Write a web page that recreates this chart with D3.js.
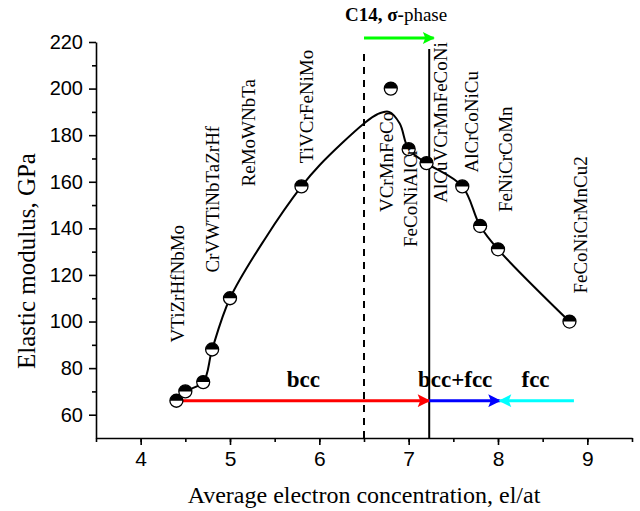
<!DOCTYPE html>
<html>
<head>
<meta charset="utf-8">
<script src="https://cdn.jsdelivr.net/npm/d3@7"></script>
<style>
  body { margin: 0; background: #fff; }
  svg { display: block; }
</style>
</head>
<body>
<svg id="chart" width="640" height="511"></svg>
<script>
// Measured points: electron concentration vs elastic modulus
const vec = [4.4, 4.5, 4.7, 4.8, 5.0, 5.8, 6.8, 7.0, 7.2, 7.6, 7.8, 8.0, 8.8];
const modulus = [66, 70, 74, 88, 110, 158, 200, 174, 168, 158, 141, 131, 100];

// Hand-drawn trend curve
const fitX = [4.4, 4.5, 4.7, 4.8, 5.0, 5.4, 5.8, 6.0, 6.5, 6.65, 6.78, 6.9, 7.0, 7.2, 7.6, 7.8, 8.0, 8.8];
const fitY = [66, 70, 74, 88, 110, 136, 158, 167, 185, 189, 190, 185, 174, 168, 158, 141, 131, 100];

// Alloy names and where their labels sit (bottom of rotated text, data units)
const alloys = ["VTiZrHfNbMo", "CrVWTiNbTaZrHf", "ReMoWNbTa", "TiVCrFeNiMo", "VCrMnFeCo",
  "FeCoNiAlCr", "AlCuVCrMnFeCoNi", "AlCrCoNiCu", "FeNiCrCoMn", "FeCoNiCrMnCu2"];
const alloyX = [4.41, 4.8, 5.2, 5.85, 6.75, 7.02, 7.35, 7.7, 8.08, 8.92];
const alloyY = [91, 121, 158, 168, 147, 132, 151, 164, 147, 112];

// Phase region arrows
const phases = ["bcc", "bcc+fcc", "fcc"];
const phaseFrom = [4.4, 7.23, 8.85];
const phaseTo = [7.23, 8.02, 8.02];
const phaseLabelX = [5.82, 7.52, 8.42];
const arrowLevel = 66;
const phaseLabelLevel = 72;

const dashedX = 6.5;   // C14 onset
const solidX = 7.23;   // bcc / bcc+fcc border

const xTicks = [4, 5, 6, 7, 8, 9];
const yTicks = [60, 80, 100, 120, 140, 160, 180, 200, 220];

// ---- layout
const svg = d3.select("#chart");
const margin = {left: 96, right: 8, top: 42, bottom: 73};
const W = 640, H = 511;

const x = d3.scaleLinear().domain([3.5, 9.5]).range([margin.left, W - margin.right]);
const y = d3.scaleLinear().domain([50, 220]).range([H - margin.bottom, margin.top]);

const serif = "'Liberation Serif', 'Times New Roman', serif";
const sans = "'Liberation Sans', Arial, sans-serif";
const phaseColors = ["#ff0000", "#0000ff", "#00ffff"];

// arrow markers
const defs = svg.append("defs");
function addMarker(id, color) {
  defs.append("marker")
    .attr("id", id)
    .attr("viewBox", "0 0 10 10")
    .attr("refX", 9).attr("refY", 5)
    .attr("markerWidth", 4.5).attr("markerHeight", 4)
    .attr("markerUnits", "strokeWidth")
    .attr("orient", "auto")
    .append("path")
    .attr("d", "M0,0 L10,5 L0,10 L2,5 Z")
    .attr("fill", color);
}
phaseColors.forEach((c, i) => addMarker("arr" + i, c));
addMarker("arrGreen", "#00ff00");

// ---- axes
const xAxis = svg.append("g").attr("transform", `translate(0,${y.range()[0]})`);
xAxis.append("g")
  .call(d3.axisBottom(x).tickValues(d3.range(3.5, 9.51, 0.5)).tickSize(4).tickFormat(""))
  .call(g => g.select(".domain").remove());
xAxis.append("g")
  .call(d3.axisBottom(x).tickValues(xTicks).tickFormat(d3.format("d")).tickSize(7).tickPadding(6).tickSizeOuter(0))
  .call(g => g.selectAll("text").attr("font-family", sans).attr("font-size", 21).attr("fill", "#000"));

const yAxis = svg.append("g").attr("transform", `translate(${x.range()[0]},0)`);
yAxis.append("g")
  .call(d3.axisLeft(y).tickValues(d3.range(70, 220, 20)).tickSize(4).tickFormat(""))
  .call(g => g.select(".domain").remove());
yAxis.append("g")
  .call(d3.axisLeft(y).tickValues(yTicks).tickSize(7).tickPadding(6).tickSizeOuter(0))
  .call(g => g.selectAll("text").attr("font-family", sans).attr("font-size", 20).attr("fill", "#000"));

svg.selectAll(".domain, .tick line").attr("stroke", "#000").attr("stroke-width", 1.6);

svg.append("text")
  .attr("x", (x.range()[0] + x.range()[1]) / 2)
  .attr("y", 503)
  .attr("text-anchor", "middle")
  .attr("font-family", serif).attr("font-size", 24)
  .text("Average electron concentration, el/at");

svg.append("text")
  .attr("transform", "translate(35,261) rotate(-90)")
  .attr("text-anchor", "middle")
  .attr("font-family", serif).attr("font-size", 25)
  .text("Elastic modulus, GPa");

// ---- phase boundaries
svg.append("line")
  .attr("x1", x(dashedX)).attr("x2", x(dashedX))
  .attr("y1", y.range()[0]).attr("y2", y(217))
  .attr("stroke", "#000").attr("stroke-width", 2).attr("stroke-dasharray", "7,6");
svg.append("line")
  .attr("x1", x(solidX)).attr("x2", x(solidX))
  .attr("y1", y.range()[0]).attr("y2", y(217))
  .attr("stroke", "#000").attr("stroke-width", 2);

// green C14 arrow + label
svg.append("line")
  .attr("x1", x(dashedX)).attr("x2", x(7.28))
  .attr("y1", 38).attr("y2", 38)
  .attr("stroke", "#00ff00").attr("stroke-width", 3)
  .attr("marker-end", "url(#arrGreen)");
const c14 = svg.append("text")
  .attr("x", 345).attr("y", 21)
  .attr("font-family", serif).attr("font-size", 19);
c14.append("tspan").attr("font-weight", "bold").text("C14, σ-");
c14.append("tspan").text("phase");

// ---- phase arrows
svg.selectAll(".phase-arrow")
  .data(phases)
  .join("line")
  .attr("class", "phase-arrow")
  .attr("x1", (d, i) => x(phaseFrom[i]))
  .attr("x2", (d, i) => x(phaseTo[i]))
  .attr("y1", y(arrowLevel)).attr("y2", y(arrowLevel))
  .attr("stroke", (d, i) => phaseColors[i])
  .attr("stroke-width", 3.2)
  .attr("marker-end", (d, i) => `url(#arr${i})`);

svg.selectAll(".phase-label")
  .data(phases)
  .join("text")
  .attr("class", "phase-label")
  .attr("x", (d, i) => x(phaseLabelX[i]))
  .attr("y", y(phaseLabelLevel))
  .attr("text-anchor", "middle")
  .attr("font-family", serif).attr("font-size", 23).attr("font-weight", "bold")
  .text(d => d);

// ---- trend curve
const line = d3.line()
  .x((d, i) => x(fitX[i]))
  .y(d => y(d))
  .curve(d3.curveCatmullRom.alpha(0.5));
svg.append("path")
  .attr("d", line(fitY))
  .attr("fill", "none")
  .attr("stroke", "#000")
  .attr("stroke-width", 2);

// ---- half-filled markers
const r = 6.5;
const topHalf = d3.arc().innerRadius(0).outerRadius(r).startAngle(-Math.PI / 2).endAngle(Math.PI / 2);
const pts = svg.selectAll(".pt")
  .data(modulus)
  .join("g")
  .attr("class", "pt")
  .attr("transform", (d, i) => `translate(${x(vec[i])},${y(d)})`);
pts.append("circle").attr("r", r).attr("fill", "#fff");
pts.append("path").attr("d", topHalf()).attr("fill", "#000");
pts.append("circle").attr("r", r).attr("fill", "none").attr("stroke", "#000").attr("stroke-width", 1.3);

// ---- alloy labels
svg.selectAll(".alloy")
  .data(alloys)
  .join("text")
  .attr("class", "alloy")
  .attr("transform", (d, i) => `translate(${x(alloyX[i])},${y(alloyY[i])}) rotate(-90)`)
  .attr("dy", "0.35em")
  .attr("font-family", serif).attr("font-size", 19)
  .text(d => d);
</script>
</body>
</html>
